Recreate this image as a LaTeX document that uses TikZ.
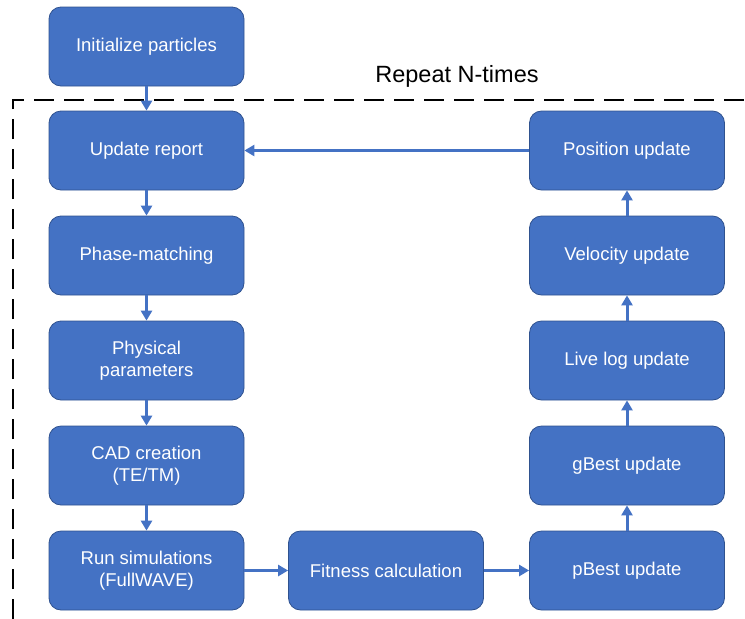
\documentclass[tikz,border=0pt]{standalone}
\usepackage{fontspec}
\setmainfont{Liberation Sans}
\usetikzlibrary{arrows.meta}
\definecolor{boxblue}{HTML}{4472C4}
\definecolor{boxedge}{HTML}{2F528F}
\tikzset{
  flowbox/.style={rectangle, rounded corners=12pt, fill=boxblue, draw=boxedge, line width=0.8pt,
    minimum width=195pt, minimum height=79pt, text=white, align=center, inner sep=2pt,
    font=\fontsize{18.5}{22.2}\selectfont},
  flowarrow/.style={draw=boxblue, line width=3pt, -{Triangle[length=10pt,width=11pt]}},
  repeatframe/.style={draw=black, line width=2.8pt, dash pattern=on 20pt off 10pt}
}
\begin{document}
\begin{tikzpicture}[x=1pt,y=-1pt]
\useasboundingbox (0,0) rectangle (745,619);
\coordinate (fb) at (13,619);
\coordinate (fc) at (13,100);
\coordinate (fr) at (745,100);
\draw[repeatframe] (fb) -- (fc) -- (fr);
\node[font=\fontsize{23.5}{28}\selectfont, text=black] (rep) at (457,76) {Repeat N-times};

\node[flowbox] (init) at (146.5,46.5) {Initialize particles};
\node[flowbox] (upd) at (146.5,150.5) {Update report};
\node[flowbox] (phase) at (146.5,255.5) {Phase-matching};
\node[flowbox] (phys) at (146.5,360.5) {Physical\\parameters};
\node[flowbox] (cad) at (146.5,465.5) {CAD creation\\(TE/TM)};
\node[flowbox] (run) at (146.5,570.5) {Run simulations\\(FullWAVE)};
\node[flowbox] (fit) at (386,570.5) {Fitness calculation};
\node[flowbox] (pb) at (627,570.5) {pBest update};
\node[flowbox] (gb) at (627,465.5) {gBest update};
\node[flowbox] (live) at (627,360.5) {Live log update};
\node[flowbox] (vel) at (627,255.5) {Velocity update};
\node[flowbox] (pos) at (627,150.5) {Position update};

\draw[flowarrow] (init) -- (upd);
\draw[flowarrow] (upd) -- (phase);
\draw[flowarrow] (phase) -- (phys);
\draw[flowarrow] (phys) -- (cad);
\draw[flowarrow] (cad) -- (run);
\draw[flowarrow] (run) -- (fit);
\draw[flowarrow] (fit) -- (pb);
\draw[flowarrow] (pb) -- (gb);
\draw[flowarrow] (gb) -- (live);
\draw[flowarrow] (live) -- (vel);
\draw[flowarrow] (vel) -- (pos);
\draw[flowarrow] (pos) -- (upd);
\end{tikzpicture}
\end{document}
